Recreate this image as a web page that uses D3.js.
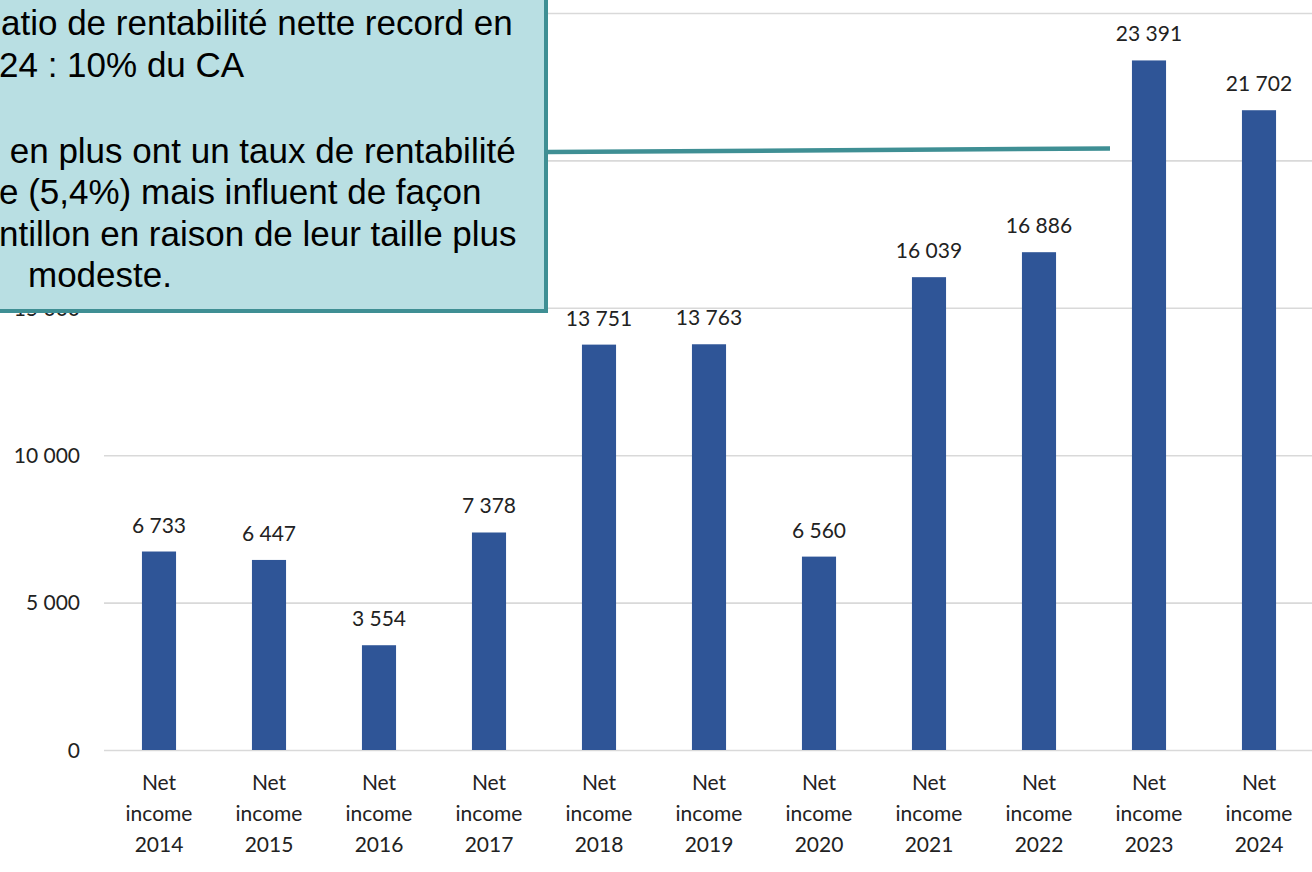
<!DOCTYPE html>
<html>
<head>
<meta charset="utf-8">
<script src="https://cdn.jsdelivr.net/npm/d3@7"></script>
<style>
   html, body { margin: 0; padding: 0; background: #fff; overflow: hidden; }
   svg { display: block; }
</style>
</head>
<body>
<script>
// Paramètres de la visualisation
const width = 1312;
const height = 872;
const margin = { top: 13, right: -2, bottom: 122, left: 104 };

// Données
const years = [2014, 2015, 2016, 2017, 2018, 2019, 2020, 2021, 2022, 2023, 2024];
const netIncome = [6733, 6447, 3554, 7378, 13751, 13763, 6560, 16039, 16886, 23391, 21702];
const categoryLines = ['Net', 'income'];
const yTicks = [0, 5000, 10000, 15000, 20000, 25000];

// Texte de l'encadré (coupé à gauche dans l'original)
const noteLines = [
   'atio de rentabilité nette record en',
   '24 : 10% du CA',
   ' en plus ont un taux de rentabilité',
   'e (5,4%) mais influent de façon',
   'ntillon en raison de leur taille plus',
   'modeste.'
];
const noteX = [1, -1, 0, -1, -1, 28];
const noteY = [35, 77, 163, 204, 246, 287];

const frLocale = d3.formatLocale({
   decimal: ',',
   thousands: '\u00a0',
   grouping: [3],
   currency: ['', ' €']
});
const fmt = frLocale.format(',d');

let scaleX, scaleY;

function setup () {

   const data = years.map((y, i) => ({ year: y, value: netIncome[i] }));

   const svg = d3.select('body')
   .append('svg')
   .attr('width', width)
   .attr('height', height);

   // échelle horizontale
   scaleX = d3.scaleBand()
   .domain(years)
   .range([margin.left, width - margin.right])
   .paddingInner(0.69)
   .paddingOuter(0.345);

   // échelle verticale
   scaleY = d3.scaleLinear()
   .domain([0, 25000])
   .range([height - margin.bottom, margin.top]);

   // grille + étiquettes de l'axe vertical
   svg.append('g')
   .attr('transform', `translate(${margin.left}, 0)`)
   .call(d3.axisRight(scaleY)
      .tickValues(yTicks)
      .tickSize(width - margin.left)
      .tickFormat(fmt))
   .call(g => g.select('.domain').remove())
   .call(g => g.selectAll('.tick line')
      .attr('stroke', '#d9d9d9')
      .attr('stroke-width', 1.6))
   .call(g => g.selectAll('.tick text')
      .attr('x', -24)
      .attr('dy', '0.35em')
      .attr('text-anchor', 'end')
      .style('font', '21px Lato, sans-serif')
      .style('fill', '#222'));

   // barres
   svg.append('g')
   .selectAll('rect')
   .data(data)
   .join('rect')
      .attr('x', d => scaleX(d.year))
      .attr('y', d => scaleY(d.value))
      .attr('width', scaleX.bandwidth())
      .attr('height', d => scaleY(0) - scaleY(d.value))
      .style('fill', '#2f5597');

   // valeurs
   svg.append('g')
   .attr('text-anchor', 'middle')
   .style('font', '21px Lato, sans-serif')
   .style('fill', '#222')
   .selectAll('text')
   .data(data)
   .join('text')
      .attr('x', d => scaleX(d.year) + scaleX.bandwidth() / 2)
      .attr('y', d => scaleY(d.value) - 19)
      .text(d => fmt(d.value));

   // axe horizontal (étiquettes sur trois lignes)
   const xAxis = svg.append('g')
   .attr('transform', `translate(0, ${scaleY(0)})`)
   .call(d3.axisBottom(scaleX).tickSize(0).tickFormat(''))
   .call(g => g.select('.domain').remove());

   xAxis.selectAll('.tick')
   .append('text')
      .attr('text-anchor', 'middle')
      .style('font', '21px Lato, sans-serif')
      .style('fill', '#222')
      .selectAll('tspan')
      .data(d => [...categoryLines, String(d)])
      .join('tspan')
         .attr('x', 0)
         .attr('y', (d, i) => 40 + i * 31)
         .text(d => d);

   // trait de liaison
   svg.append('line')
   .attr('x1', 548)
   .attr('y1', 152)
   .attr('x2', 1110)
   .attr('y2', 148.5)
   .attr('stroke', '#3f8f94')
   .attr('stroke-width', 4.5);

   // encadré
   const note = svg.append('g');

   note.append('rect')
   .attr('x', -10)
   .attr('y', -10)
   .attr('width', 556)
   .attr('height', 321)
   .style('fill', '#b9dfe3')
   .style('stroke', '#3f8f94')
   .style('stroke-width', 4);

   note.selectAll('text')
   .data(noteLines)
   .join('text')
      .attr('x', (d, i) => noteX[i])
      .attr('y', (d, i) => noteY[i])
      .attr('xml:space', 'preserve')
      .style('font', '35px "Liberation Sans", Arial, sans-serif')
      .style('fill', '#000')
      .style('white-space', 'pre')
      .text(d => d);
}

setup();
</script>
</body>
</html>
